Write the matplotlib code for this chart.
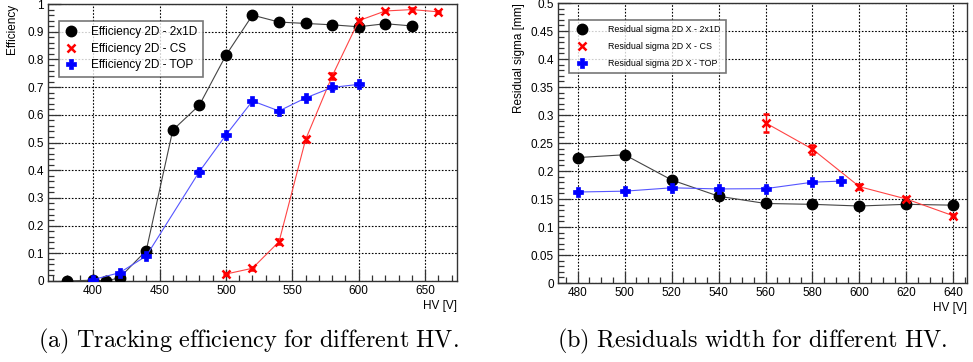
import matplotlib
matplotlib.use("Agg")
import matplotlib.pyplot as plt
from matplotlib.ticker import MultipleLocator, FuncFormatter
from matplotlib.lines import Line2D

plt.rcParams['font.family'] = ['Liberation Sans', 'DejaVu Sans']
plt.rcParams['mathtext.fontset'] = 'cm'

# ---- Panel (a): tracking efficiency ----
hv_2x1d = [380, 400, 410, 420, 440, 460, 480, 500, 520, 540, 560, 580, 600, 620, 640]
eff_2x1d = [0.0, 0.003, 0.0, 0.012, 0.11, 0.545, 0.635, 0.815, 0.96, 0.935, 0.93, 0.925, 0.918, 0.929, 0.921]

hv_cs = [500, 520, 540, 560, 580, 600, 620, 640, 660]
eff_cs = [0.025, 0.046, 0.142, 0.511, 0.74, 0.94, 0.975, 0.98, 0.972]
err_cs = [0.005, 0.005, 0.008, 0.01, 0.01, 0.006, 0.004, 0.004, 0.004]

hv_top = [400, 420, 440, 480, 500, 520, 540, 560, 580, 600]
eff_top = [0.005, 0.03, 0.09, 0.395, 0.527, 0.65, 0.614, 0.661, 0.699, 0.71]
err_top = [0.004, 0.005, 0.006, 0.008, 0.008, 0.008, 0.008, 0.008, 0.008, 0.008]

labels_a = ['Efficiency 2D - 2x1D', 'Efficiency 2D - CS', 'Efficiency 2D - TOP']

# ---- Panel (b): residual width ----
hv_r2x1d = [480, 500, 520, 540, 560, 580, 600, 620, 640]
res_2x1d = [0.224, 0.229, 0.184, 0.155, 0.142, 0.1405, 0.1375, 0.1405, 0.139]
rerr_2x1d = [0.006, 0.006, 0.004, 0.003, 0.003, 0.003, 0.003, 0.003, 0.003]

hv_rcs = [560, 580, 600, 620, 640]
res_cs = [0.286, 0.239, 0.172, 0.150, 0.120]
rerr_cs = [0.016, 0.008, 0.004, 0.003, 0.003]

hv_rtop = [480, 500, 520, 540, 560, 580, 592]
res_top = [0.1625, 0.164, 0.170, 0.168, 0.1685, 0.180, 0.182]
rerr_top = [0.004, 0.004, 0.004, 0.004, 0.004, 0.004, 0.004]

labels_b = ['Residual sigma 2D X - 2x1D', 'Residual sigma 2D X - CS', 'Residual sigma 2D X - TOP']

fig = plt.figure(figsize=(9.73, 3.62), dpi=100)
ax1 = fig.add_axes([0.0493, 0.2238, 0.4204, 0.765])
ax2 = fig.add_axes([0.5735, 0.2182, 0.4203, 0.7735])

fmt = FuncFormatter(lambda v, p: '%g' % round(v, 4))

def style(ax):
    ax.grid(True, which='major', linestyle=(0, (1.5, 1.5)), color='black', linewidth=0.8)
    ax.tick_params(which='both', direction='in', top=False, right=False, labelsize=8.5,
                   color='#333333', pad=3)
    ax.tick_params(which='major', length=9, width=0.9)
    ax.tick_params(which='minor', length=4.5, width=0.9)
    for s in ax.spines.values():
        s.set_color('#333333')
        s.set_linewidth(1.0)
    ax.xaxis.set_major_formatter(fmt)
    ax.yaxis.set_major_formatter(fmt)
    ax.set_axisbelow(True)

mk_black = dict(marker='o', ms=7.5, mfc='black', mec='black')
mk_red = dict(marker='x', ms=6, mec='red', mew=1.8)
mk_blue = dict(marker='P', ms=7, mfc='blue', mec='blue', mew=0.5)

def draw(ax, xs, ys, es):
    ax.errorbar(xs[0], ys[0], yerr=es[0], color='#444444', lw=0.8, ecolor='black',
                elinewidth=1, zorder=3, **mk_black)
    ax.errorbar(xs[1], ys[1], yerr=es[1], color='#ff4444', lw=0.8, ecolor='red',
                elinewidth=1, capsize=2.5, zorder=3, **mk_red)
    ax.errorbar(xs[2], ys[2], yerr=es[2], color='#5555ff', lw=0.8, ecolor='blue',
                elinewidth=1, capsize=2.5, zorder=3, **mk_blue)
    return [Line2D([], [], ls='none', **mk_black),
            Line2D([], [], ls='none', **mk_red),
            Line2D([], [], ls='none', **mk_blue)]

# Panel (a)
h1 = draw(ax1, [hv_2x1d, hv_cs, hv_top], [eff_2x1d, eff_cs, eff_top],
          [None, err_cs, err_top])
ax1.set_xlim(366, 674)
ax1.set_ylim(0, 1)
ax1.xaxis.set_major_locator(MultipleLocator(50))
ax1.xaxis.set_minor_locator(MultipleLocator(10))
ax1.yaxis.set_major_locator(MultipleLocator(0.1))
ax1.yaxis.set_minor_locator(MultipleLocator(0.02))
style(ax1)
ax1.set_ylabel('Efficiency', fontsize=8.5, loc='top')
ax1.yaxis.set_label_coords(-0.073, 1.0)
ax1.set_xlabel('HV [V]', fontsize=8.5, loc='right', labelpad=2)
leg1 = ax1.legend(h1, labels_a, loc='upper left', bbox_to_anchor=(0.027, 0.94), fontsize=8.5,
                  frameon=True, fancybox=False, edgecolor='#555555', handlelength=1.2,
                  borderpad=0.45, labelspacing=0.4, handletextpad=1.1, borderaxespad=0)
leg1.get_frame().set_linewidth(1.2)

# Panel (b)
h2 = draw(ax2, [hv_r2x1d, hv_rcs, hv_rtop], [res_2x1d, res_cs, res_top],
          [rerr_2x1d, rerr_cs, rerr_top])
ax2.set_xlim(471.6, 645.8)
ax2.set_ylim(0, 0.5)
ax2.xaxis.set_major_locator(MultipleLocator(20))
ax2.xaxis.set_minor_locator(MultipleLocator(5))
ax2.yaxis.set_major_locator(MultipleLocator(0.05))
ax2.yaxis.set_minor_locator(MultipleLocator(0.01))
style(ax2)
ax2.set_ylabel('Residual sigma [mm]', fontsize=8.5, loc='top')
ax2.yaxis.set_label_coords(-0.080, 1.0)
ax2.set_xlabel('HV [V]', fontsize=8.5, loc='right', labelpad=2)
leg2 = ax2.legend(h2, labels_b, loc='upper left', bbox_to_anchor=(0.027, 0.94), fontsize=6.4,
                  frameon=True, fancybox=False, edgecolor='#555555', handlelength=1.6,
                  borderpad=0.6, labelspacing=0.9, handletextpad=2.2, borderaxespad=0)
leg2.get_frame().set_linewidth(1.2)

fig.text(0.255, 0.039, r'$\mathrm{(a)\ Tracking\ efficiency\ for\ different\ HV.}$',
         ha='center', va='baseline', fontsize=17.5)
fig.text(0.7734, 0.039, r'$\mathrm{(b)\ Residuals\ width\ for\ different\ HV.}$',
         ha='center', va='baseline', fontsize=17.5)

fig.savefig('out.png', dpi=100)
